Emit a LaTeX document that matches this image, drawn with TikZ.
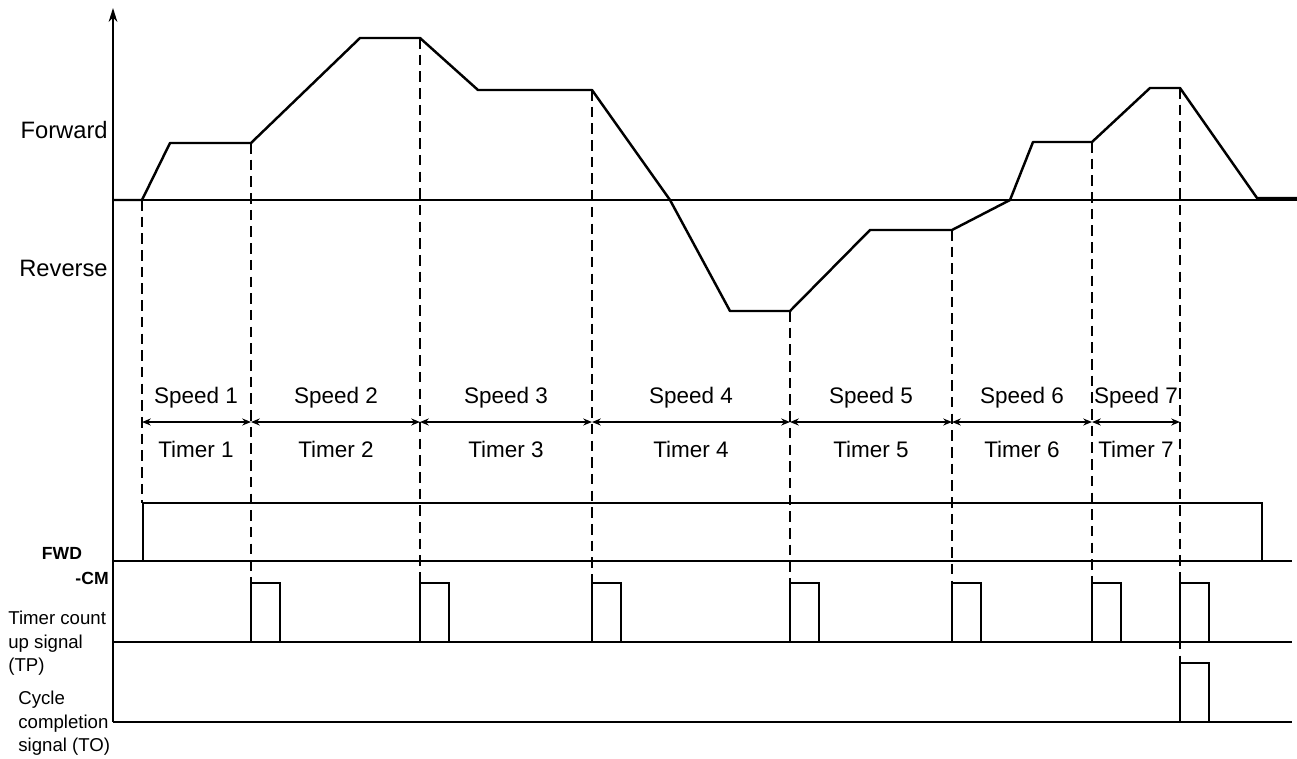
\documentclass[tikz,border=0pt]{standalone}
\usepackage{fontspec}
\setmainfont{Liberation Sans}
\usepackage{tikz}
\usetikzlibrary{positioning, arrows.meta}

\begin{document}
\begin{tikzpicture}[
    x=0.02cm, y=-0.02cm,
    lbl/.style={inner sep=0pt, font=\fontsize{12.8}{15}\selectfont},
    side/.style={inner sep=0pt, anchor=east, font=\fontsize{13.5}{16}\selectfont},
    pin/.style={inner sep=0pt, font=\bfseries\fontsize{10}{12}\selectfont},
    sig/.style={inner sep=0pt, anchor=north west, align=left, font=\fontsize{10.6}{13.3}\selectfont},
    wave/.style={line width=1.4pt, line join=round},
    rail/.style={line width=0.8pt},
    guide/.style={dashed, dash pattern=on 6pt off 3.5pt, line width=0.7pt},
    arrow/.style={{Stealth[length=5pt,width=4pt]}-{Stealth[length=5pt,width=4pt]}, line width=0.8pt}
]
    \useasboundingbox (0,0) rectangle (1297,758);

    % axis and rails
    \coordinate (axtop) at (113,8);
    \coordinate (axbot) at (113,722);
    \draw [line width=1pt, -{Stealth[length=8pt,width=5pt]}] (axbot) -- (axtop);
    \draw [rail] (113,200) -- (1297,200);
    \draw [rail] (113,561) -- (1292,561);
    \draw [rail] (113,642) -- (1292,642);
    \draw [rail] (113,722) -- (1292,722);

    % side labels
    \node (fwdlbl) [side] at (108,130) {Forward};
    \node (revlbl) [side] at (108,268) {Reverse};
    \node (fwdpin) [pin] at (62,553) {FWD};
    \node (cmpin) [pin, anchor=east] at (109,578) {-CM};
    \node (tplbl) [sig] at (8,611) {Timer count\\up signal\\(TP)};
    \node (tolbl) [sig] at (18,691) {Cycle\\completion\\signal (TO)};

    % speed profile
    \draw [wave] (113,200) -- (142,200) -- (170,143) -- (251,143) -- (360,38)
        -- (420,38) -- (478,90) -- (592,90) -- (670,200) -- (730,311)
        -- (790,311) -- (870,230) -- (952,230) -- (1010,200) -- (1033,142)
        -- (1092,142) -- (1150,88) -- (1180,88) -- (1257,198) -- (1297,198);

    % step boundaries
    \coordinate (t0a) at (142,200);  \coordinate (t0b) at (142,503);
    \coordinate (t1a) at (251,143);  \coordinate (t1b) at (251,583);
    \coordinate (t2a) at (420,38);   \coordinate (t2b) at (420,583);
    \coordinate (t3a) at (592,90);   \coordinate (t3b) at (592,583);
    \coordinate (t4a) at (790,311);  \coordinate (t4b) at (790,583);
    \coordinate (t5a) at (952,230);  \coordinate (t5b) at (952,583);
    \coordinate (t6a) at (1092,142); \coordinate (t6b) at (1092,583);
    \coordinate (t7a) at (1180,88);  \coordinate (t7b) at (1180,663);

    \draw [guide] (t0a) -- (t0b);
    \draw [guide] (t1a) -- (t1b);
    \draw [guide] (t2a) -- (t2b);
    \draw [guide] (t3a) -- (t3b);
    \draw [guide] (t4a) -- (t4b);
    \draw [guide] (t5a) -- (t5b);
    \draw [guide] (t6a) -- (t6b);
    \draw [guide] (t7a) -- (t7b);

    % speed / timer spans
    \coordinate (s0) at (142,422);
    \coordinate (s1) at (251,422);
    \coordinate (s2) at (420,422);
    \coordinate (s3) at (592,422);
    \coordinate (s4) at (790,422);
    \coordinate (s5) at (952,422);
    \coordinate (s6) at (1092,422);
    \coordinate (s7) at (1180,422);

    \path [arrow, draw] (s0) -- (s1);
    \path [arrow, draw] (s1) -- (s2);
    \path [arrow, draw] (s2) -- (s3);
    \path [arrow, draw] (s3) -- (s4);
    \path [arrow, draw] (s4) -- (s5);
    \path [arrow, draw] (s5) -- (s6);
    \path [arrow, draw] (s6) -- (s7);

    \node (speed1) [lbl] at (196,398) {Speed 1};
    \node (speed2) [lbl] at (336,398) {Speed 2};
    \node (speed3) [lbl] at (506,398) {Speed 3};
    \node (speed4) [lbl] at (691,398) {Speed 4};
    \node (speed5) [lbl] at (871,398) {Speed 5};
    \node (speed6) [lbl] at (1022,398) {Speed 6};
    \node (speed7) [lbl] at (1136,398) {Speed 7};

    \node (timer1) [lbl] at (196,449) {Timer 1};
    \node (timer2) [lbl] at (336,449) {Timer 2};
    \node (timer3) [lbl] at (506,449) {Timer 3};
    \node (timer4) [lbl] at (691,449) {Timer 4};
    \node (timer5) [lbl] at (871,449) {Timer 5};
    \node (timer6) [lbl] at (1022,449) {Timer 6};
    \node (timer7) [lbl] at (1136,449) {Timer 7};

    % FWD-CM run signal
    \draw [rail] (143,561) -- (143,503) -- (1262,503) -- (1262,561);

    % TP pulses
    \draw [rail] (t1b) -- ++(29,0) -- ++(0,59);
    \draw [rail] (t1b) -- ++(0,59);
    \draw [rail] (t2b) -- ++(29,0) -- ++(0,59);
    \draw [rail] (t2b) -- ++(0,59);
    \draw [rail] (t3b) -- ++(29,0) -- ++(0,59);
    \draw [rail] (t3b) -- ++(0,59);
    \draw [rail] (t4b) -- ++(29,0) -- ++(0,59);
    \draw [rail] (t4b) -- ++(0,59);
    \draw [rail] (t5b) -- ++(29,0) -- ++(0,59);
    \draw [rail] (t5b) -- ++(0,59);
    \draw [rail] (t6b) -- ++(29,0) -- ++(0,59);
    \draw [rail] (t6b) -- ++(0,59);
    \draw [rail] (1180,642) -- (1180,583) -- (1209,583) -- (1209,642);

    % TO pulse
    \draw [rail] (t7b) -- ++(29,0) -- ++(0,59);
    \draw [rail] (t7b) -- ++(0,59);
\end{tikzpicture}
\end{document}
